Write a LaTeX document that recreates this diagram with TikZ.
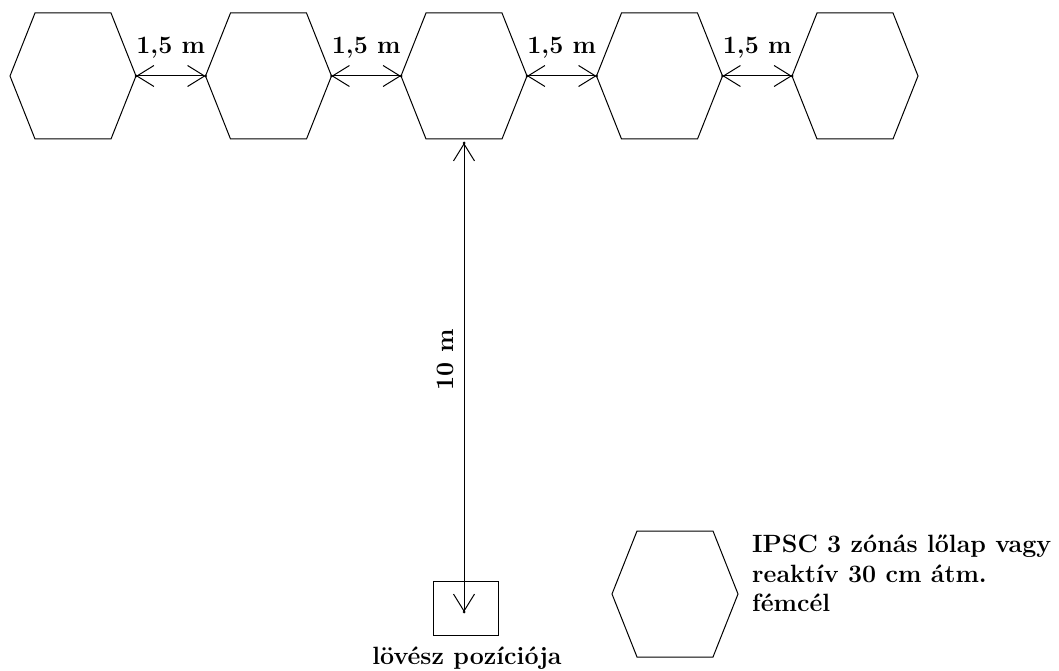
\documentclass[tikz,border=0pt]{standalone}
\usepackage{fontspec}
\usetikzlibrary{arrows.meta}
\tikzset{
  hexa/.style={line width=1pt},
  gap/.style={line width=1pt, {Straight Barb[length=17pt,width=21pt]}-{Straight Barb[length=17pt,width=21pt]}},
  lbl/.style={font=\fontsize{25}{29.5}\selectfont\bfseries},
}
\begin{document}
\begin{tikzpicture}[x=1pt,y=-1pt]
\useasboundingbox (0,0) rectangle (1059,671);
% targets in a row
\foreach \i/\cx in {1/73,2/268.5,3/464,4/659.5,5/855}{
  \draw[hexa] (\cx-63,76) coordinate (h\i-l) -- ++(25,-63) -- ++(76,0) -- ++(25,63) coordinate (h\i-r)
    -- ++(-25,63) -- ++(-76,0) -- cycle;
  \coordinate (h\i-b) at (\cx,139);
}
% 1,5 m gaps
\foreach \i/\j in {1/2,2/3,3/4,4/5}{
  \fill (h\i-r) circle (1.5pt) (h\j-l) circle (1.5pt);
  \draw[gap] (h\i-r) -- node[lbl, anchor=base, yshift=22pt] (g\i) {1,5 m} (h\j-l);
}
% shooter
\node[draw, line width=1pt, minimum width=65pt, minimum height=54pt, inner sep=0] (pos) at (465.5,608) {};
\coordinate (top) at (464,143);
\coordinate (tip) at (464,612);
\fill (top) circle (1.5pt) (tip) circle (1.5pt);
\draw[gap] (top) -- (tip);
\node[lbl, rotate=90, anchor=base] (dist) at (453,360) {10 m};
\node[lbl, anchor=base] (shooter) at (467,664) {lövész pozíciója};
% legend
\draw[hexa] (612,594) coordinate (k-l) -- ++(25,-63) -- ++(76,0) -- ++(25,63) -- ++(-25,63) -- ++(-76,0) -- cycle;
\node[lbl, align=left, anchor=north west, inner sep=0] (legend) at (752,535) {IPSC 3 zónás lőlap vagy\\reaktív 30 cm átm.\\fémcél};
\end{tikzpicture}
\end{document}
